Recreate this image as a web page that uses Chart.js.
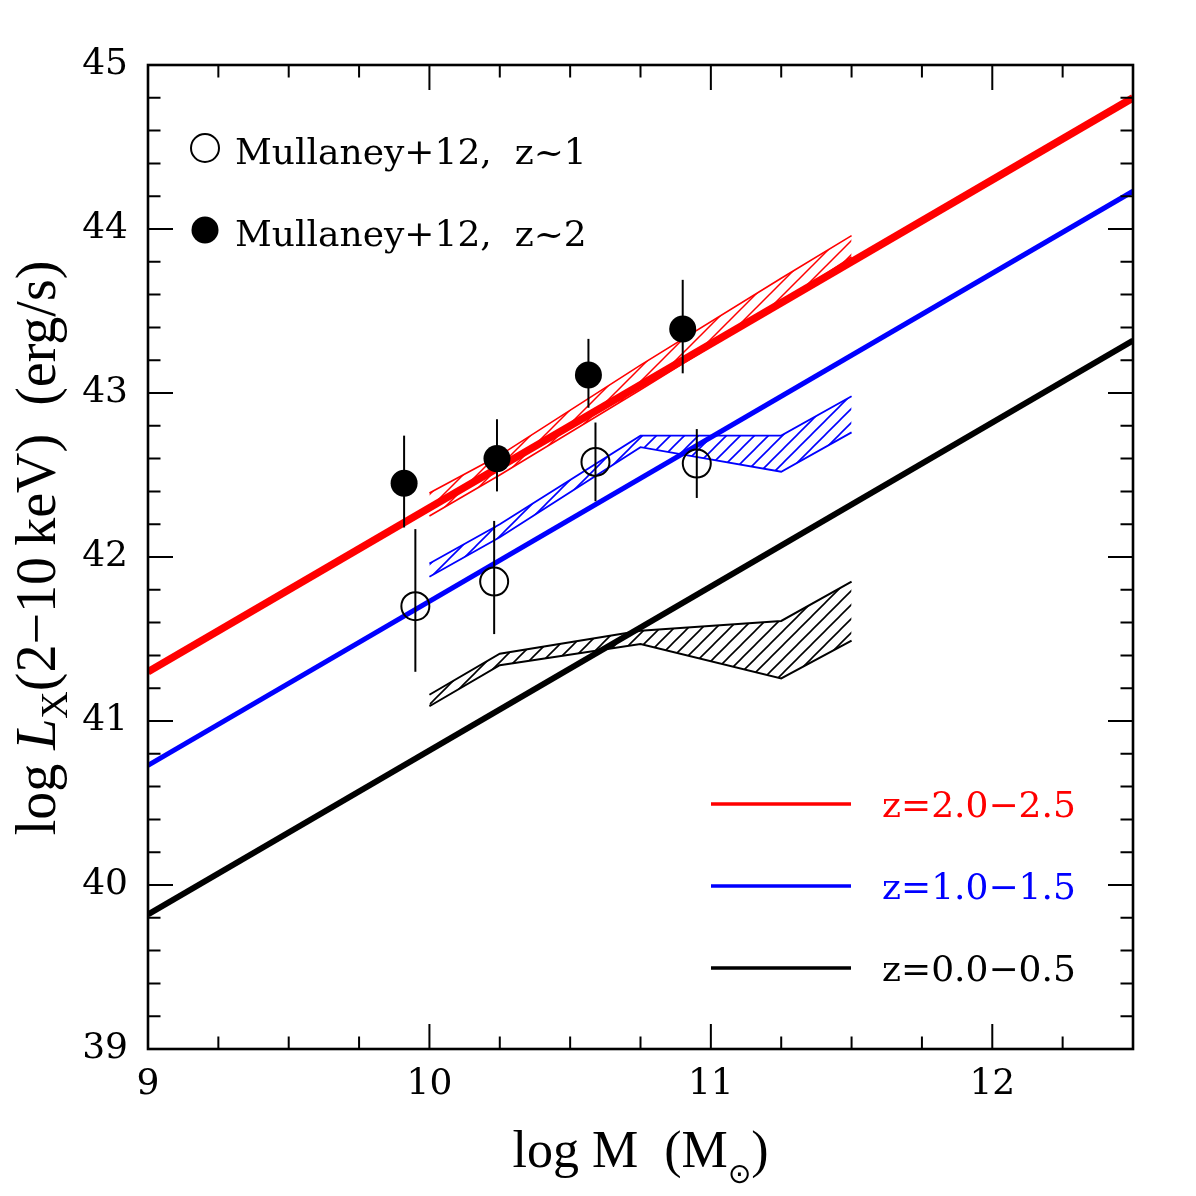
<!DOCTYPE html>
<html>
<head>
<meta charset="utf-8">
<script src="https://cdn.jsdelivr.net/npm/chart.js@4.4.1/dist/chart.umd.min.js"></script>
<style>
  html, body { margin: 0; padding: 0; background: #fff; }
  #c { display: block; }
</style>
</head>
<body>
<canvas id="c" width="1196" height="1196"></canvas>
<script>
// ---------- data ----------
const xTicks = [9, 10, 11, 12];
const yTicks = [39, 40, 41, 42, 43, 44, 45];

// thick relations
const relX = [9, 12.5];
const relHigh = [41.30, 44.80];   // z=2.0-2.5
const relMid  = [40.73, 44.23];   // z=1.0-1.5
const relLow  = [39.82, 43.32];   // z=0.0-0.5

// hatched bands
const bandX = [10.0, 10.25, 10.75, 11.25, 11.5];
const redUpper   = [42.39, 42.62, 43.17, 43.70, 43.96];
const redLower   = [42.25, 42.50, 43.02, 43.55, 43.83];
const blueUpper  = [41.96, 42.20, 42.74, 42.74, 42.98];
const blueLower  = [41.88, 42.12, 42.67, 42.52, 42.76];
const blackUpper = [41.16, 41.41, 41.55, 41.61, 41.85];
const blackLower = [41.09, 41.34, 41.47, 41.26, 41.49];

// Mullaney+12 points
const z1X  = [9.95, 10.23, 10.59, 10.95];
const z1Y  = [41.70, 41.85, 42.58, 42.57];
const z1Lo = [41.30, 41.53, 42.34, 42.36];
const z1Hi = [42.17, 42.22, 42.82, 42.78];
const z2X  = [9.91, 10.24, 10.565, 10.90];
const z2Y  = [42.45, 42.60, 43.11, 43.39];
const z2Lo = [42.18, 42.40, 42.91, 43.12];
const z2Hi = [42.74, 42.84, 43.33, 43.69];

const lineLegend = [
  { label: 'z=2.0\u22122.5', color: '#ff0000' },
  { label: 'z=1.0\u22121.5', color: '#0000ff' },
  { label: 'z=0.0\u22120.5', color: '#000000' }
];
const pointLegend = ['Mullaney+12,  z~1', 'Mullaney+12,  z~2'];

// ---------- helpers ----------
const xy = (xs, ys) => xs.map((x, i) => ({ x: x, y: ys[i] }));

function hatch(color, lw) {
  const s = 14;
  const c = document.createElement('canvas');
  c.width = s; c.height = s;
  const g = c.getContext('2d');
  g.strokeStyle = color; g.lineWidth = lw;
  g.beginPath();
  g.moveTo(-2, s + 2); g.lineTo(s + 2, -2);
  g.moveTo(-2, 2); g.lineTo(2, -2);
  g.moveTo(s - 2, s + 2); g.lineTo(s + 2, s - 2);
  g.stroke();
  return g.createPattern(c, 'repeat');
}

const lineDs = (data, color, w) => ({
  data: data, showLine: true, borderColor: color, borderWidth: w,
  pointRadius: 0, fill: false, tension: 0
});

const errSeries = [
  { xs: z1X, lo: z1Lo, hi: z1Hi },
  { xs: z2X, lo: z2Lo, hi: z2Hi }
];

const SERIF = '"DejaVu Serif", serif';
const TIMES = '"Liberation Serif", "Times New Roman", serif';

// ---------- plugin: frame, ticks, error bars, legends, titles ----------
const decor = {
  id: 'decor',
  afterDatasetsDraw(chart) {
    const { ctx, scales: { x, y } } = chart;
    ctx.save();
    ctx.strokeStyle = '#000';
    ctx.lineWidth = 2;
    errSeries.forEach(s => {
      s.xs.forEach((xv, i) => {
        const px = x.getPixelForValue(xv);
        ctx.beginPath();
        ctx.moveTo(px, y.getPixelForValue(s.lo[i]));
        ctx.lineTo(px, y.getPixelForValue(s.hi[i]));
        ctx.stroke();
      });
    });
    ctx.restore();
  },
  afterDraw(chart) {
    const { ctx, chartArea: a, scales: { x, y } } = chart;
    ctx.save();
    // frame
    ctx.strokeStyle = '#000';
    ctx.lineWidth = 2.6;
    ctx.strokeRect(a.left, a.top, a.right - a.left, a.bottom - a.top);
    // ticks
    ctx.lineWidth = 2;
    const MAJ = 25, MIN = 12.5;
    ctx.beginPath();
    for (let k = 0; k <= 14; k++) {
      const v = 9 + k * 0.25;
      const px = x.getPixelForValue(v);
      const L = (Math.abs(v - Math.round(v)) < 1e-6) ? MAJ : MIN;
      ctx.moveTo(px, a.bottom); ctx.lineTo(px, a.bottom - L);
      ctx.moveTo(px, a.top); ctx.lineTo(px, a.top + L);
    }
    for (let k = 0; k <= 30; k++) {
      const v = 39 + k * 0.2;
      const py = y.getPixelForValue(v);
      const L = (k % 5 === 0) ? MAJ : MIN;
      ctx.moveTo(a.left, py); ctx.lineTo(a.left + L, py);
      ctx.moveTo(a.right, py); ctx.lineTo(a.right - L, py);
    }
    ctx.stroke();

    // point legend (top-left)
    const lx = a.left + 57;
    const ly = [a.top + 83, a.top + 165];
    ctx.lineWidth = 2;
    ctx.beginPath(); ctx.arc(lx, ly[0], 14, 0, Math.PI * 2); ctx.stroke();
    ctx.fillStyle = '#000';
    ctx.beginPath(); ctx.arc(lx, ly[1], 13.5, 0, Math.PI * 2); ctx.fill();
    ctx.font = '36px ' + SERIF;
    ctx.textAlign = 'left';
    ctx.textBaseline = 'alphabetic';
    pointLegend.forEach((t, i) => ctx.fillText(t, a.left + 87, ly[i] + 16));

    // line legend (bottom-right)
    const rows = [a.top + 739, a.top + 821, a.top + 903];
    lineLegend.forEach((it, i) => {
      ctx.strokeStyle = it.color;
      ctx.lineWidth = 3.5;
      ctx.beginPath();
      ctx.moveTo(a.left + 563, rows[i]);
      ctx.lineTo(a.left + 703, rows[i]);
      ctx.stroke();
      ctx.fillStyle = it.color;
      ctx.font = '36px ' + SERIF;
      ctx.fillText(it.label, a.left + 734, rows[i] + 13);
    });

    // x title: log M  (M_sun)
    ctx.fillStyle = '#000';
    const xf = '52px ' + TIMES;
    const sf = '28px "DejaVu Sans", sans-serif';
    const p1 = 'log M  (M', p2 = '\u2299', p3 = ')';
    ctx.font = xf; const w1 = ctx.measureText(p1).width, w3 = ctx.measureText(p3).width;
    ctx.font = sf; const w2 = ctx.measureText(p2).width;
    let cx = (a.left + a.right) / 2 - (w1 + w2 + w3) / 2;
    const by = 1167;
    ctx.font = xf; ctx.fillText(p1, cx, by); cx += w1;
    ctx.font = sf; ctx.fillText(p2, cx, by + 16); cx += w2;
    ctx.font = xf; ctx.fillText(p3, cx, by);

    // y title: log L_X(2-10 keV)  (erg/s), rotated
    const yfN = '56px ' + TIMES, yfI = 'italic 56px ' + TIMES, yfS = '38px ' + TIMES;
    const parts = [
      { t: 'log ', f: yfN, dy: 0 },
      { t: 'L', f: yfI, dy: 0 },
      { t: 'X', f: yfS, dy: 12 },
      { t: '(2\u221210\u2009keV)  (erg/s)', f: yfN, dy: 0 }
    ];
    let tot = 0;
    parts.forEach(p => { ctx.font = p.f; p.w = ctx.measureText(p.t).width; tot += p.w; });
    ctx.translate(55, (a.top + a.bottom) / 2 - 9);
    ctx.rotate(-Math.PI / 2);
    let tx = -tot / 2;
    parts.forEach(p => { ctx.font = p.f; ctx.fillText(p.t, tx, p.dy); tx += p.w; });
    ctx.restore();
  }
};

// ---------- chart ----------
new Chart(document.getElementById('c'), {
  type: 'scatter',
  data: {
    datasets: [
      { data: xy(z2X, z2Y), pointRadius: 13.5, pointBorderWidth: 0,
        pointBackgroundColor: '#000', pointBorderColor: '#000', showLine: false },
      { data: xy(z1X, z1Y), pointRadius: 14, pointBorderWidth: 2,
        pointBackgroundColor: 'rgba(0,0,0,0)', pointBorderColor: '#000', showLine: false },
      lineDs(xy(relX, relHigh), '#ff0000', 7.5),
      lineDs(xy(relX, relMid), '#0000ff', 5),
      lineDs(xy(relX, relLow), '#000000', 6),
      lineDs(xy(bandX, redUpper), '#ff0000', 1.6),
      Object.assign(lineDs(xy(bandX, redLower), '#ff0000', 1.6), { fill: '-1', backgroundColor: hatch('#ff0000', 1.5) }),
      lineDs(xy(bandX, blueUpper), '#0000ff', 1.8),
      Object.assign(lineDs(xy(bandX, blueLower), '#0000ff', 1.8), { fill: '-1', backgroundColor: hatch('#0000ff', 1.6) }),
      lineDs(xy(bandX, blackUpper), '#000000', 2),
      Object.assign(lineDs(xy(bandX, blackLower), '#000000', 2), { fill: '-1', backgroundColor: hatch('#000000', 1.6) })
    ]
  },
  options: {
    responsive: false,
    animation: false,
    events: [],
    devicePixelRatio: 1,
    layout: { padding: { left: 0, right: 63, top: 65, bottom: 0 } },
    plugins: { legend: { display: false }, tooltip: { enabled: false } },
    scales: {
      x: {
        type: 'linear', min: 9, max: 12.5, position: 'bottom',
        grid: { display: false, drawTicks: false },
        border: { display: false },
        ticks: { color: '#000', font: { family: 'DejaVu Serif', size: 36 }, padding: 14, maxRotation: 0 },
        afterBuildTicks: s => { s.ticks = xTicks.map(v => ({ value: v })); },
        afterFit: s => { s.height = 147; }
      },
      y: {
        type: 'linear', min: 39, max: 45, position: 'left',
        grid: { display: false, drawTicks: false },
        border: { display: false },
        ticks: { color: '#000', font: { family: 'DejaVu Serif', size: 36 }, padding: 20 },
        afterBuildTicks: s => { s.ticks = yTicks.map(v => ({ value: v })); },
        afterFit: s => { s.width = 148; }
      }
    }
  },
  plugins: [decor]
});
</script>
</body>
</html>
